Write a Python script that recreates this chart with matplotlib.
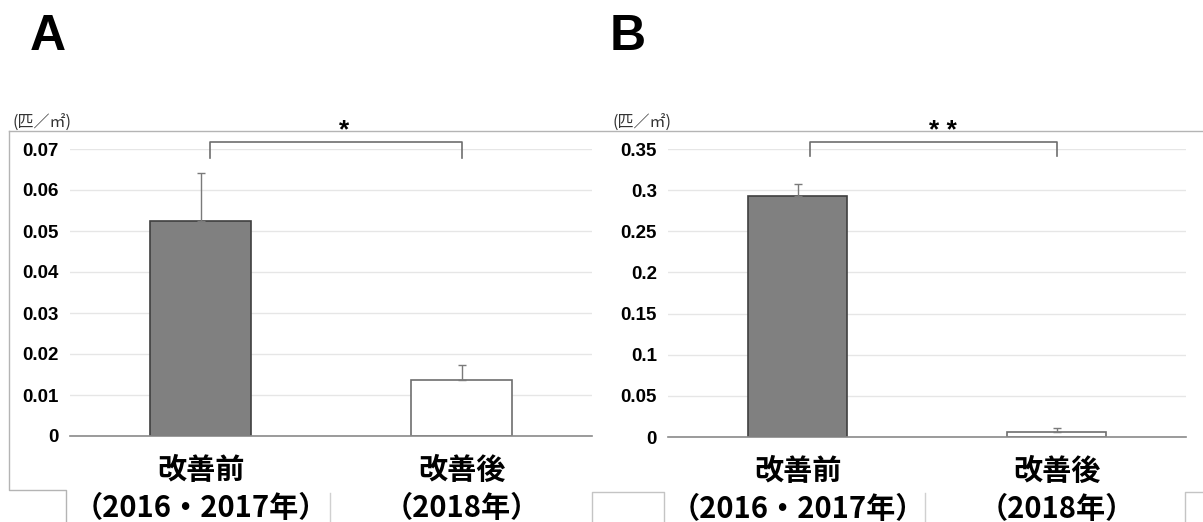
import matplotlib
matplotlib.use("Agg")
import matplotlib.pyplot as plt
from matplotlib.lines import Line2D

# data
categories = ["改善前\n（2016・2017年）", "改善後\n（2018年）"]
means_a = [0.0524, 0.0137]
errs_a = [0.0117, 0.0036]
means_b = [0.293, 0.006]
errs_b = [0.015, 0.005]
ticks_a = [0, 0.01, 0.02, 0.03, 0.04, 0.05, 0.06, 0.07]
ticklabels_a = ["0", "0.01", "0.02", "0.03", "0.04", "0.05", "0.06", "0.07"]
ticks_b = [0, 0.05, 0.1, 0.15, 0.2, 0.25, 0.3, 0.35]
ticklabels_b = ["0", "0.05", "0.1", "0.15", "0.2", "0.25", "0.3", "0.35"]
unit = "(匹／㎡)"

W, H = 1203, 522
fig = plt.figure(figsize=(W / 100, H / 100), dpi=100)
fig.patch.set_facecolor("white")

JP = ["Noto Sans CJK JP", "DejaVu Sans"]
NUM = ["Liberation Sans", "DejaVu Sans"]


def px(x0, y0, x1, y1):
    # pixel box -> figure rect
    return [x0 / W, 1 - y1 / H, (x1 - x0) / W, (y1 - y0) / H]


def fline(xs, ys, color="#b4b4b4", lw=1.0):
    fig.add_artist(Line2D([x / W for x in xs], [1 - y / H for y in ys],
                          transform=fig.transFigure, color=color, lw=lw))


def panel(rect, means, errs, ticks, ticklabels, ymax, bracket, star, label_x, letter_x, letter):
    ax = fig.add_axes(rect)
    x = [0, 1]
    ax.bar(x, means, width=0.385, color=["#808080", "white"],
           edgecolor=["#404040", "#6e6e6e"], linewidth=1.2, zorder=3)
    ax.errorbar(x, means, yerr=[[0, 0], errs], fmt="none", ecolor="#7a7a7a",
                elinewidth=1.0, capsize=3, capthick=1.0, zorder=4)
    ax.set_xlim(-0.5, 1.5)
    ax.set_ylim(0, ymax)
    ax.set_yticks(ticks)
    ax.set_yticklabels(ticklabels, fontfamily=NUM, fontsize=13.5, fontweight="bold")
    ax.set_xticks([])
    ax.tick_params(axis="y", length=0, pad=8)
    ax.grid(axis="y", color="#e6e6e6", lw=1.0, zorder=0)
    for s in ["top", "right", "left"]:
        ax.spines[s].set_visible(False)
    ax.spines["bottom"].set_color("#8a8a8a")
    ax.spines["bottom"].set_linewidth(1.2)
    ax.spines["bottom"].set_zorder(5)

    # significance bracket
    bx0, bx1, btop, bfoot = bracket
    ax.plot([bx0, bx0, bx1, bx1], [bfoot, btop, btop, bfoot], color="#6e6e6e",
            lw=1.2, clip_on=False, zorder=5)
    ax.text(star[0], star[1], star[2], ha="center", va="center", fontsize=19,
            fontweight="bold", fontfamily=NUM, clip_on=False)

    # category labels (two lines each)
    for i, c in enumerate(categories):
        top, bottom = c.split("\n")
        ax.text(i, -0.118 * ymax, top, ha="center", va="center", fontsize=21,
                fontweight="bold", fontfamily=JP, clip_on=False)
        ax.text(i, -0.25 * ymax, bottom, ha="center", va="center", fontsize=21,
                fontweight="bold", fontfamily=JP, clip_on=False)

    fig.text(label_x / W, 1 - 123 / H, unit, fontsize=11.5, fontfamily=JP,
             ha="left", va="center", color="#333333")
    fig.text(letter_x / W, 1 - 37 / H, letter, fontsize=36,
             fontweight="bold", fontfamily=NUM, ha="left", va="center")
    return ax


panel(px(70, 149, 592, 436), means_a, errs_a, ticks_a, ticklabels_a, 0.07,
      (0.035, 1.0, 0.0717, 0.0678), (0.55, 0.0745, "*"), 12, 30, "A")
panel(px(668, 149, 1186, 437), means_b, errs_b, ticks_b, ticklabels_b, 0.35,
      (0.05, 1.0, 0.359, 0.341), (0.56, 0.372, "* *"), 612, 610, "B")

# chart-area frame remnants
fline([9, 1203], [131, 131])
fline([9, 9, 66, 66], [131, 490, 490, 522])
fline([330, 330], [493, 522], color="#d0d0d0")
fline([592, 592, 664, 664], [522, 492, 492, 522], color="#c4c4c4")
fline([925, 925], [493, 522], color="#d0d0d0")
fline([1203, 1185, 1185], [492, 492, 522], color="#c4c4c4")

fig.savefig("out.png", dpi=100, facecolor="white")
